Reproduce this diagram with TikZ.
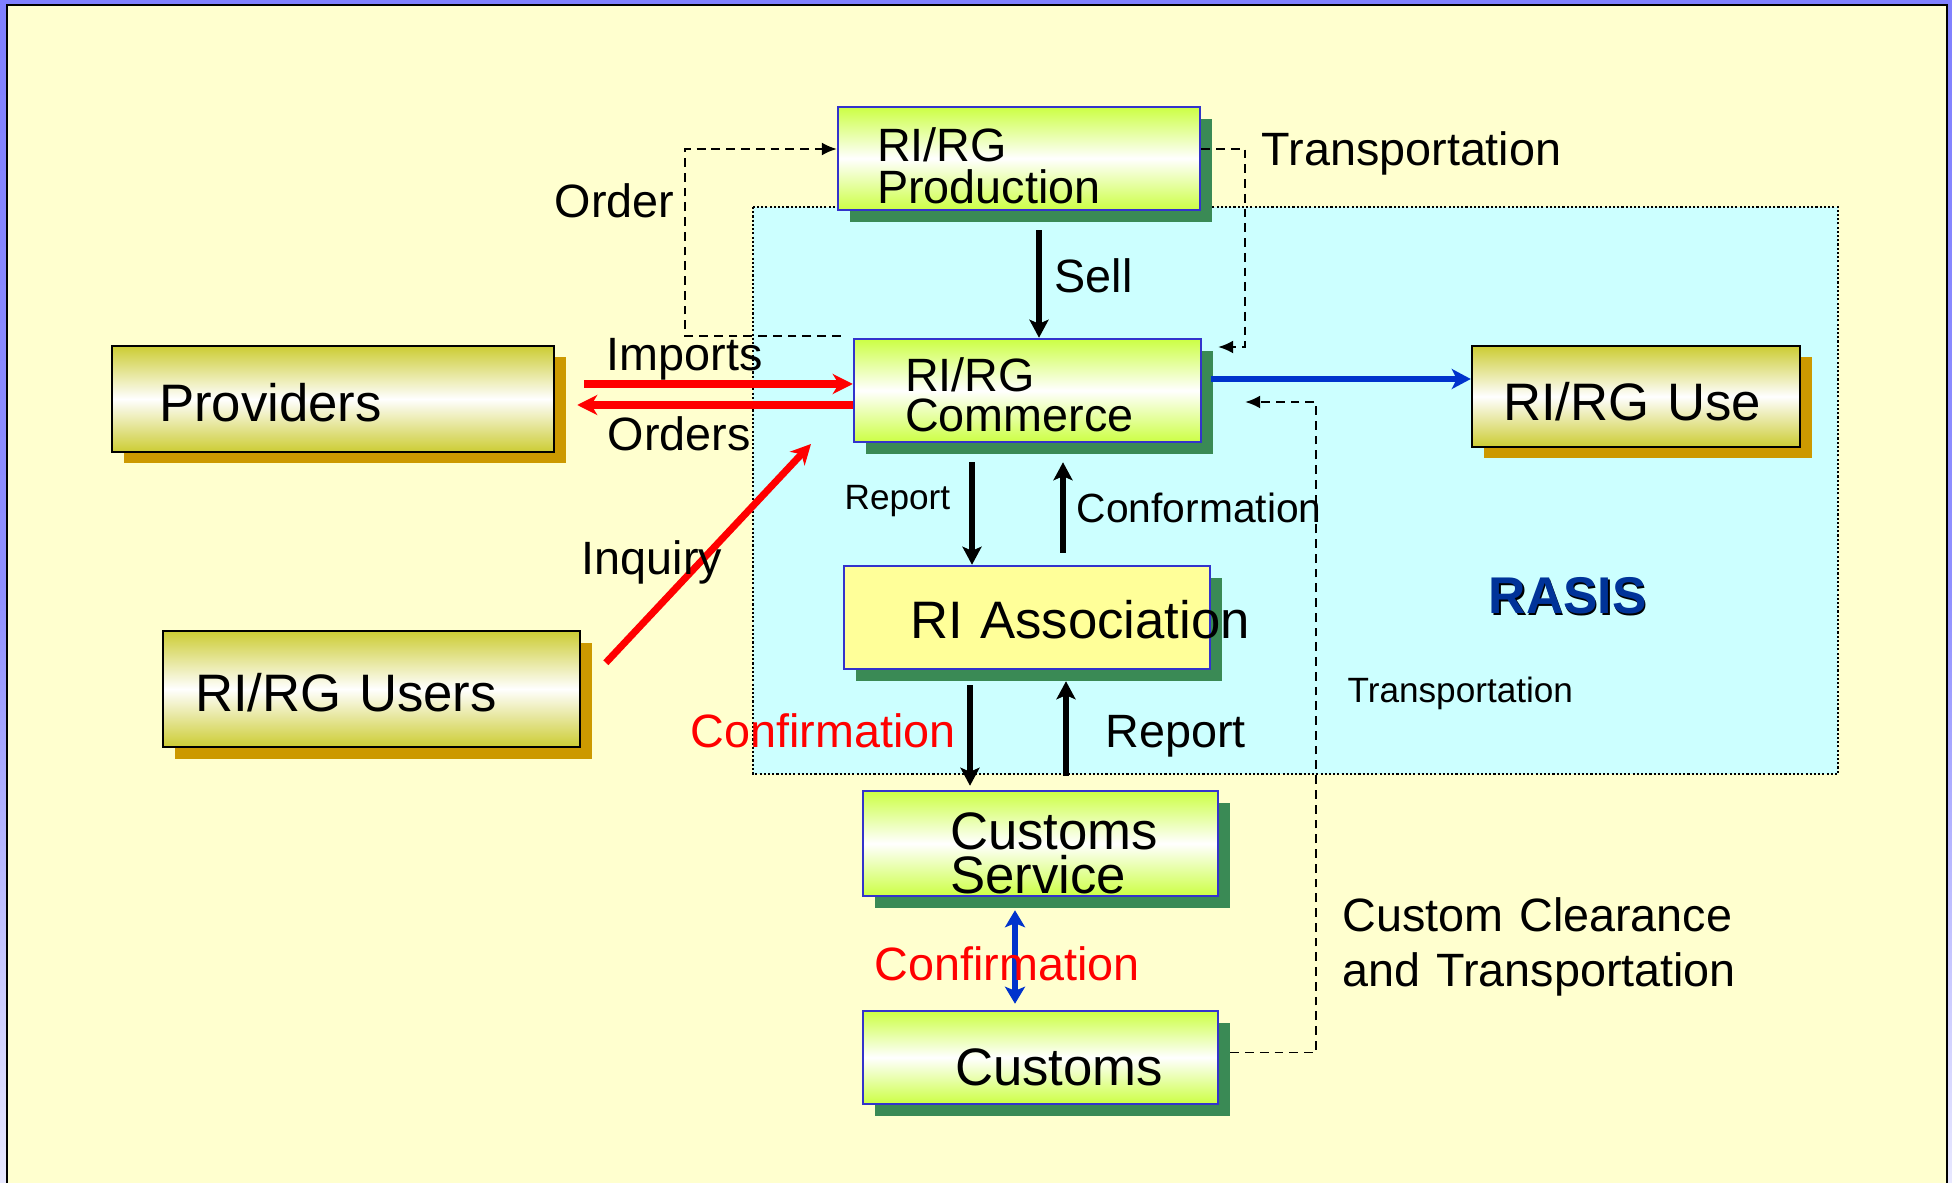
\documentclass[tikz,border=0pt]{standalone}
\usepackage{fontspec}
\setmainfont{Liberation Sans}
\usetikzlibrary{arrows.meta,shadows}
\hyphenpenalty=10000

\definecolor{slideblue}{HTML}{8080FF}
\definecolor{slidepale}{HTML}{E8E8FF}
\definecolor{slidebg}{HTML}{FFFFCF}
\definecolor{rasisbg}{HTML}{CCFFFF}
\definecolor{limetop}{HTML}{CCFF44}
\definecolor{goldtop}{HTML}{CCCC33}
\definecolor{goldshadow}{HTML}{CC9900}
\definecolor{greenshadow}{HTML}{3A8A55}
\definecolor{boxblue}{HTML}{3333CC}
\definecolor{assocfill}{HTML}{FFFF99}
\definecolor{arrowblue}{HTML}{0033CC}
\definecolor{rasisblue}{HTML}{003399}

\begin{document}
\begin{tikzpicture}
\tikzset{frame/.style={draw=black,line width=0.6pt}}
\tikzset{rasisarea/.style={fill=rasisbg,draw=black,line width=0.5pt,dash pattern=on 0.6pt off 0.6pt}}
\tikzset{goldbox/.style={draw=black,line width=0.7pt,top color=goldtop,bottom color=goldtop,middle color=white,drop shadow={fill=goldshadow,opacity=1,shadow xshift=1.15mm,shadow yshift=-1.15mm},inner ysep=0pt,align=left,font=\fontsize{15}{15}\selectfont}}
\tikzset{limebox/.style={draw=boxblue,line width=0.7pt,top color=limetop,bottom color=limetop,middle color=white,drop shadow={fill=greenshadow,opacity=1,shadow xshift=1.2mm,shadow yshift=-1.2mm},inner ysep=0pt,align=left}}
\tikzset{assocbox/.style={draw=boxblue,line width=0.7pt,fill=assocfill,drop shadow={fill=greenshadow,opacity=1,shadow xshift=1.2mm,shadow yshift=-1.2mm},inner ysep=0pt,align=left,font=\fontsize{15}{15}\selectfont}}
\tikzset{lbl/.style={anchor=base west,inner sep=0pt,font=\fontsize{13.3}{13.3}\selectfont}}
\tikzset{smalllbl/.style={lbl,font=\fontsize{10}{10}\selectfont}}
\tikzset{blackarrow/.style={draw=black,line width=1.5pt,-{Stealth[length=1.8mm,width=1.9mm,inset=0.4mm]}}}
\tikzset{redarrow/.style={draw=red,line width=2pt,-{Stealth[length=2mm,width=2mm,inset=0.6mm]}}}
\tikzset{bluearrow/.style={draw=arrowblue,line width=1.7pt,-{Stealth[length=1.9mm,width=2mm,inset=0.5mm]}}}
\tikzset{bluedouble/.style={draw=arrowblue,line width=1.5pt,{Stealth[length=1.7mm,width=2mm,inset=0.4mm]}-{Stealth[length=1.7mm,width=2mm,inset=0.4mm]}}}
\tikzset{dashline/.style={draw=black,line width=0.55pt,dash pattern=on 2.5pt off 1.7pt,-{Latex[length=1.5mm,width=1.3mm]}}}

\begin{scope}[x={(0.1mm,0mm)},y={(0mm,-0.1mm)}]
\useasboundingbox (0,0) rectangle (1952,1183);

% slide frame
\path[top color=slideblue,bottom color=slidepale,middle color=slideblue!85!slidepale] (0,0) rectangle (1952,1183);
\path[fill=slidebg] (7,5) rectangle (1947,1183);
\path[frame] (7,1183) -- (7,5) -- (1947,5) -- (1947,1183);

% RASIS area
\path[rasisarea] (753,207) rectangle (1838,774);

% boxes
\node[goldbox,text width=34.8mm,inner xsep=4.7mm,minimum height=10.6mm,text height=4.6mm,text depth=0mm] (prov) at (333,399) {Providers};
\node[goldbox,text width=35.3mm,inner xsep=3.2mm,minimum height=11.6mm,text height=4.4mm,text depth=0mm] (users) at (371.5,689) {RI/RG Users};
\node[goldbox,text width=26.6mm,inner xsep=3.1mm,minimum height=10.1mm,text height=4.9mm,text depth=0mm] (use) at (1636,396.5) {RI/RG Use};
\node[limebox,font=\fontsize{13.3}{11.7}\selectfont,text width=28.4mm,inner xsep=3.9mm,minimum height=10.3mm,text height=4.8mm,text depth=4.1mm] (prod) at (1019,158.5) {RI/RG\\Production};
\node[limebox,font=\fontsize{13.3}{11.1}\selectfont,text width=24.5mm,inner xsep=5.1mm,minimum height=10.3mm,text height=4.2mm,text depth=3.9mm] (comm) at (1027.5,390.5) {RI/RG\\Commerce};
\node[assocbox,text width=23.4mm,inner xsep=6.6mm,minimum height=10.3mm,text height=4.1mm,text depth=0mm] (assoc) at (1027,617.5) {RI~Association};
\node[limebox,font=\fontsize{15}{12.8}\selectfont,text width=18.1mm,inner xsep=8.7mm,minimum height=10.5mm,text height=5.6mm,text depth=4.5mm] (cserv) at (1040.5,843.5) {Customs\\Service};
\node[limebox,font=\fontsize{15}{15}\selectfont,text width=17.1mm,inner xsep=9.2mm,minimum height=9.3mm,text height=5.5mm,text depth=0mm] (cust) at (1040.5,1057.5) {Customs};

% helper coordinates
\coordinate (sellx) at (1039,0);
\coordinate (repx) at (972,0);
\coordinate (confx) at (1063,0);
\coordinate (cfx) at (970,0);
\coordinate (rpx) at (1066,0);
\coordinate (dblx) at (1015,0);
\coordinate (impy) at (0,384);
\coordinate (ordy) at (0,405);
\coordinate (bluey) at (0,379);
\coordinate (inqtip) at (811,444);
\coordinate (ordcorner) at (685,149);
\coordinate (trcorner) at (1245,347);
\coordinate (clcorner) at (1316,402);

% connectors
\draw[blackarrow,shorten <=1.9mm] (prod.south -| sellx) -- (comm.north -| sellx);
\draw[blackarrow,shorten <=1.9mm] (comm.south -| repx) -- (assoc.north -| repx);
\draw[blackarrow,shorten <=1.2mm,shorten >=1.9mm] (assoc.north -| confx) -- (comm.south -| confx);
\draw[blackarrow,shorten <=1.5mm,shorten >=0.4mm] (assoc.south -| cfx) -- (cserv.north -| cfx);
\draw[blackarrow,shorten <=1.4mm,shorten >=1.1mm] (cserv.north -| rpx) -- (assoc.south -| rpx);
\draw[bluedouble,shorten <=1.3mm,shorten >=0.6mm] (cserv.south -| dblx) -- (cust.north -| dblx);
\draw[redarrow,shorten <=2.9mm] (prov.east |- impy) -- (comm.west |- impy);
\draw[redarrow,shorten >=2.2mm] (comm.west |- ordy) -- (prov.east |- ordy);
\draw[redarrow,shorten <=3.6mm] (users.east) -- (inqtip);
\draw[bluearrow,shorten <=0.9mm] (comm.east |- bluey) -- (use.west |- bluey);
\draw[dashline] ([shift={(-12,-2)}]comm.north west) -| (ordcorner) -- (prod.west |- ordcorner);
\draw[dashline,shorten >=1.6mm] (prod.east |- ordcorner) -| (trcorner) -- (comm.east |- trcorner);
\draw[dashline,shorten <=1.1mm,shorten >=4.3mm] ([yshift=0.5mm]cust.east) -| (clcorner) -- (comm.east |- clcorner);

% labels
\node[lbl] (ordlbl) at (554,218) {Order};
\node[lbl] (trlbl) at (1261,166) {Transportation};
\node[lbl] (selllbl) at (1054,293) {Sell};
\node[lbl] (implbl) at (606,371) {Imports};
\node[lbl] (ordslbl) at (607,451) {Orders};
\node[lbl] (inqlbl) at (581,575) {Inquiry};
\node[smalllbl] (replbl) at (844,510) {Report};
\node[lbl,font=\fontsize{11.6}{11.6}\selectfont] (conflbl) at (1076,523) {Conformation};
\node[lbl,text=red] (confred) at (690,747) {Confirmation};
\node[lbl] (replbl2) at (1105,747) {Report};
\node[lbl,text=red] (confred2) at (874,980) {Confirmation};
\node[smalllbl] (trsmall) at (1347,703) {Transportation};
\node[lbl,align=left,text width=50mm,font=\fontsize{13.3}{15.9}\selectfont] (clearlbl) at (1342,931) {Custom Clearance\\and Transportation};
\node[lbl,font=\fontsize{14.7}{14.7}\selectfont\bfseries,text=black] (rasisshd) at (1489.5,615.5) {RASIS};
\node[lbl,font=\fontsize{14.7}{14.7}\selectfont\bfseries,text=rasisblue] (rasis) at (1488,614) {RASIS};

\end{scope}
\end{tikzpicture}
\end{document}
